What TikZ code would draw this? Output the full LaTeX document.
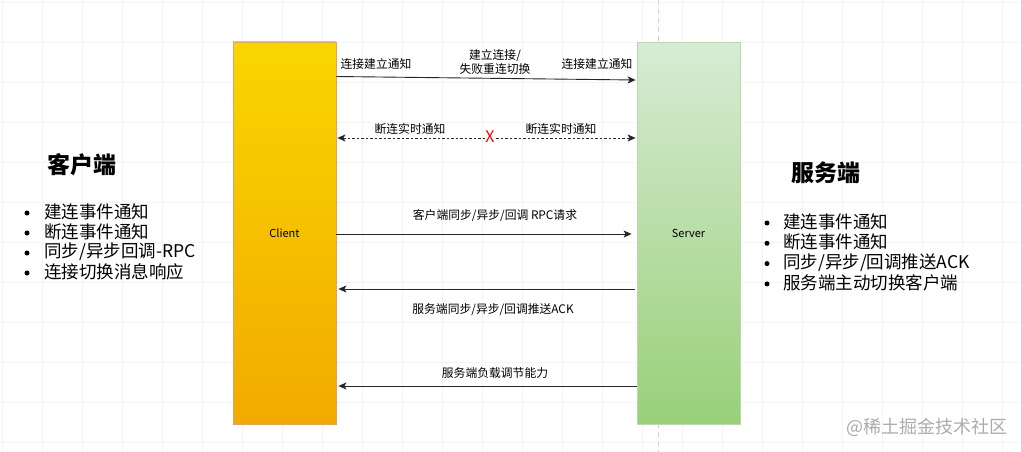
\documentclass[tikz,border=0pt]{standalone}
\usepackage{fontspec}
\setmainfont{Noto Sans CJK SC}
\usetikzlibrary{arrows.meta}
\begin{document}
\begin{tikzpicture}[x=1pt,y=-1pt,
  lbl/.style={font=\fontsize{11.8}{13}\selectfont, inner sep=1pt},
  arr/.style={draw=black!85, line width=0.9pt, -{Stealth[length=8pt,width=7pt,inset=2pt]}},
  darr/.style={draw=black!85, line width=0.9pt, dash pattern=on 2.5pt off 2pt, {Stealth[length=8pt,width=7pt,inset=2pt]}-{Stealth[length=8pt,width=7pt,inset=2pt]}},
  title/.style={font=\fontsize{23}{26}\selectfont\bfseries, inner sep=0pt, anchor=west},
  item/.style={font=\fontsize{17.5}{20}\selectfont, inner sep=0pt, anchor=west},
  dot/.style={circle, fill=black, inner sep=0pt, minimum size=5pt},
  lifebox/.style={rectangle, minimum width=103pt, minimum height=382pt, line width=0.8pt, font=\fontsize{11}{13}\selectfont}
]
\useasboundingbox[fill=white] (0,0) rectangle (1021,452);
% faint grid
\foreach \gx in {2,42,...,1002} \draw[gray!9, line width=0.5pt] (\gx,0) -- (\gx,452);
\foreach \gy in {2,42,...,442} \draw[gray!9, line width=0.5pt] (0,\gy) -- (1021,\gy);
% page break line
\draw[gray!35, line width=0.6pt, dash pattern=on 5pt off 4pt] (658,0) -- (658,452);

% boxes
\node[lifebox, draw=orange!80!black!60, top color={rgb,255:red,249;green,214;blue,0}, bottom color={rgb,255:red,242;green,170;blue,0}] (client) at (284.5,233) {Client};
\node[lifebox, draw={rgb,255:red,190;green,215;blue,170}, top color={rgb,255:red,216;green,235;blue,212}, bottom color={rgb,255:red,152;green,208;blue,120}] (server) at (688.5,233.5) {Server};

% coordinates
\coordinate (r1a) at (0,76.5);
\coordinate (r1b) at (0,80);
\coordinate (r2) at (0,138);
\coordinate (r3) at (0,234);
\coordinate (r4) at (0,289);
\coordinate (r5) at (0,386);

% arrow 1
\draw[arr] (client.east |- r1a) -- ([xshift=-1pt]server.west |- r1b);
\node[lbl] (l1a) at (376,64) {连接建立通知};
\node[lbl, align=center, font=\fontsize{11.8}{14.5}\selectfont] (l1b) at (495,62) {建立连接/\\失败重连切换};
\node[lbl] (l1c) at (597,64) {连接建立通知};

% arrow 2 (dashed)
\draw[darr] ([xshift=1pt]client.east |- r2) -- ([xshift=-1pt]server.west |- r2);
\node[lbl] (l2a) at (410,129) {断连实时通知};
\node[lbl] (l2b) at (561,129) {断连实时通知};
\node[text=red, font=\fontsize{16}{17}\selectfont, inner sep=0pt, fill=white] (x) at (490,137) {X};

% arrow 3
\draw[arr] (client.east |- r3) -- ([xshift=-5pt]server.west |- r3);
\node[lbl] (l3) at (495,216) {客户端同步/异步/回调 RPC请求};

% arrow 4
\draw[arr] ([xshift=-2pt]server.west |- r4) -- ([xshift=2pt]client.east |- r4);
\node[lbl] (l4) at (493,310) {服务端同步/异步/回调推送ACK};

% arrow 5
\draw[arr] (server.west |- r5) -- ([xshift=2pt]client.east |- r5);
\node[lbl] (l5) at (495,373) {服务端负载调节能力};

% left text
\node[title] (ct) at (47,165) {客户端};
\foreach \t [count=\i] in {建连事件通知,断连事件通知,同步/异步回调-RPC,连接切换消息响应} {
  \node[dot] (cd\i) at (27,{213+(\i-1)*20}) {};
  \node[item] (ci\i) at (44,{212+(\i-1)*20}) {\t};
}
% right text
\node[title] (st) at (791,173) {服务端};
\foreach \t [count=\i] in {建连事件通知,断连事件通知,同步/异步/回调推送ACK,服务端主动切换客户端} {
  \node[dot] (sd\i) at (767,{223+(\i-1)*20.3}) {};
  \node[item] (si\i) at (783,{222+(\i-1)*20.3}) {\t};
}

% watermark
\node[text=gray!65, font=\fontsize{18}{20}\selectfont, inner sep=0pt] (wm) at (927,427) {@稀土掘金技术社区};
\end{tikzpicture}
\end{document}
